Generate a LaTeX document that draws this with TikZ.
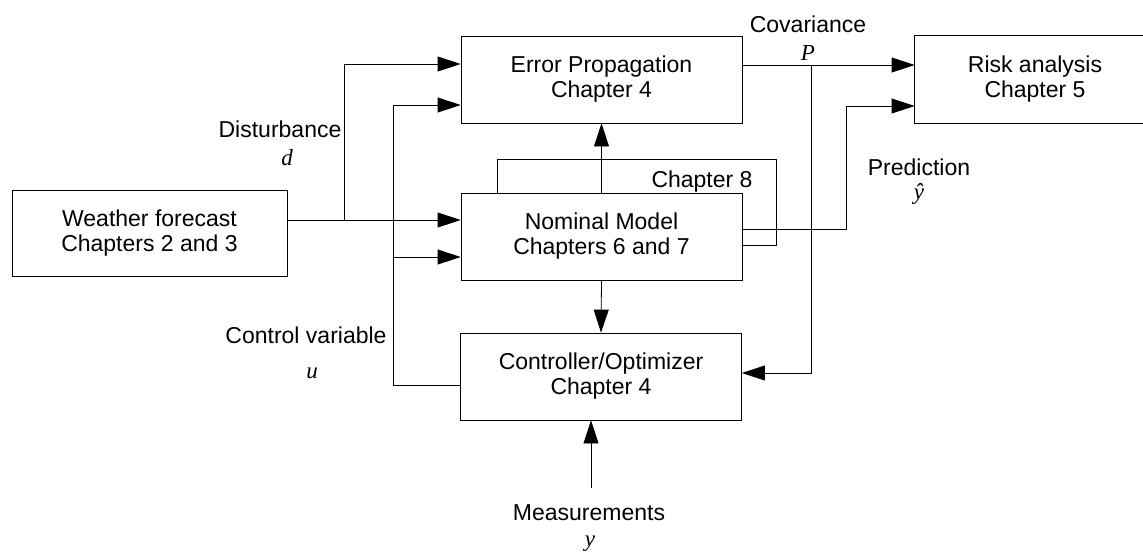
\documentclass[tikz,border=0pt]{standalone}
\usepackage{fontspec}
\setmainfont{Liberation Sans}
\newfontfamily\tms{Liberation Serif}
\usetikzlibrary{arrows.meta}
\newcommand{\mvar}[1]{{\tms\itshape #1}}

\begin{document}
\begin{tikzpicture}[x=1pt,y=-1pt,>={Triangle[length=23pt,width=15pt]},line width=0.8pt,
  blk/.style={draw,align=center,minimum width=281pt,minimum height=87pt,inner sep=0pt},
  lbl/.style={anchor=base,inner sep=0pt},
  font=\fontsize{23}{25}\selectfont]
\useasboundingbox (0,0) rectangle (1143,552);
% blocks
\node[blk,minimum width=275pt,minimum height=86pt] (wf) at (149.5,233) {Weather forecast\\Chapters 2 and 3};
\node[blk] (ep) at (601.5,79.5) {Error Propagation\\Chapter 4};
\node[blk] (nm) at (601.5,236.5) {Nominal Model\\Chapters 6 and 7};
\node[blk] (ct) at (601,376.5) {Controller/Optimizer\\Chapter 4};
\node[blk,draw=none,minimum width=240pt] (rk) at (1035,79.5) {Risk analysis\\Chapter 5};
\draw ([xshift=40pt]rk.north east) -| (rk.south west) -- ([xshift=40pt]rk.south east); % runs off the page
% junctions
\coordinate (dj) at (344,220); \coordinate (uj) at (393,385); \coordinate (pj) at (811,65);
\coordinate (yj) at (846,229); \coordinate (c8) at (776,159); \coordinate (my) at (591,488);
% signals
\draw[->] (wf.east |- dj) -- (nm.west |- dj);
\draw[->] (dj) |- (ep.west |- 0,64);
\draw[->] (ct.west |- uj) -- (uj) |- (ep.west |- 0,105);
\draw[->] (uj |- 0,257) -- (nm.west |- 0,257);
\draw[->] (nm.north) -- (ep.south);
\draw (nm.north -| 497,0) |- (c8) |- (nm.east |- 0,245);
\draw[->] (nm.east |- yj) -| (yj |- 0,106) -- (rk.west |- 0,106);
\draw[->] (ep.east |- pj) -- (rk.west |- pj);
\draw[->] (pj) |- (ct.east |- 0,373);
\draw[->] (nm.south) -- (ct.north);
\draw[->] (my) -- (ct.south -| my);
% labels
\foreach \x/\y/\n/\t in {280/137/dist/Disturbance,287/165/dd/\mvar{d},808/32/cov/Covariance,808/60/pp/\mvar{P},
  919/175/pred/Prediction,919/199/yh/\mvar{\^{y}},702/187/ch8/Chapter 8,306/343/ctl/Control variable,
  312/378/uu/\mvar{u},589/520/meas/Measurements,590/546/yy/\mvar{y}}
  \node[lbl] (\n) at (\x,\y) {\t};
\end{tikzpicture}
\end{document}
